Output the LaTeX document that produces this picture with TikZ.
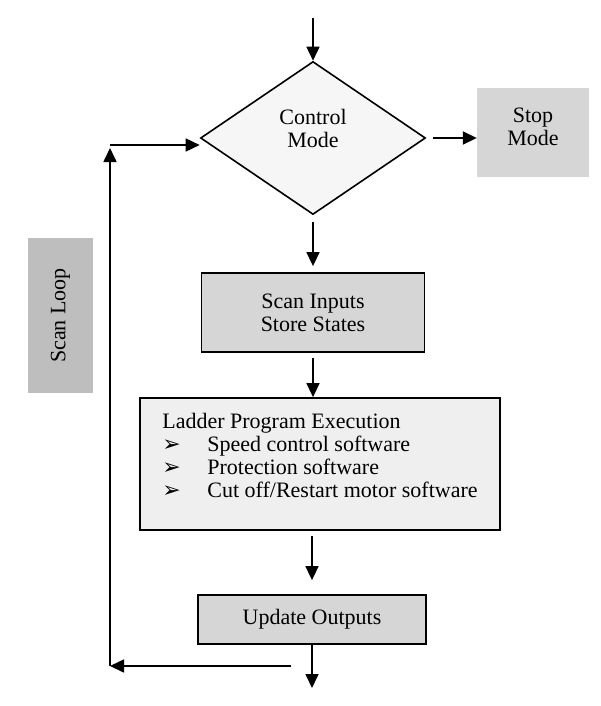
\documentclass[tikz,border=0pt]{standalone}
\usepackage{fontspec}
\setmainfont{Liberation Serif}
\newfontfamily\dingfont{DejaVu Sans}
\usetikzlibrary{shapes.geometric,arrows.meta}

\definecolor{boxgray}{HTML}{D6D6D6}
\definecolor{loopgray}{HTML}{BEBEBE}
\definecolor{lightgray}{HTML}{EFEFEF}
\definecolor{palegray}{HTML}{F6F6F6}

\newcommand{\ladderitem}{\makebox[45pt][l]{\dingfont ➢}}

\tikzset{
    flowarrow/.style={-{Triangle[length=14pt,width=13pt]}, line width=1.6pt},
    procbox/.style={draw, line width=1.8pt, fill=boxgray, align=center, inner sep=0pt},
    notebox/.style={fill=boxgray, align=center, inner sep=0pt}
}

\begin{document}
\begin{tikzpicture}[x=1pt, y=1pt, font=\fontsize{22}{23}\selectfont]
    \useasboundingbox (0,0) rectangle (600,-706);

    \coordinate (start) at (313,-18);

    \node[diamond, draw, line width=1.6pt, fill=palegray, inner sep=0pt,
          minimum width=225pt, minimum height=153pt, align=center] (ctrl) at (313,-138)
        {Control\\Mode\rule[-20pt]{0pt}{1pt}};
    \node[notebox, minimum width=112pt, minimum height=89pt] (stop) at (533,-132.5)
        {Stop\\Mode\rule[-12pt]{0pt}{1pt}};
    \node[notebox, fill=loopgray, rotate=90, minimum width=155pt, minimum height=65pt] (loop) at (60.5,-315.5) {Scan Loop};

    \node[procbox, minimum width=223pt, minimum height=79pt] (scan) at (313,-312.5) {Scan Inputs\\Store States};
    \node[procbox, fill=lightgray, minimum width=360pt, minimum height=132pt, align=left] (ladder) at (320,-464)
        {Ladder Program Execution\\
         \ladderitem Speed control software\\
         \ladderitem Protection software\\
         \ladderitem Cut off/Restart motor software\rule[-18pt]{0pt}{1pt}};
    \node[procbox, minimum width=228pt, minimum height=49pt] (upd) at (312,-619.5) {Update Outputs};

    \coordinate (outend) at (312,-688);
    \coordinate (retstart) at (291,-666);
    \coordinate (corner) at (110,-666);
    \coordinate (topcorner) at (110,-145);

    % main flow
    \draw[flowarrow] (start) -- (ctrl.north);
    \draw[flowarrow, shorten <=7pt] (ctrl.east) -- (ctrl.east -| stop.west);
    \draw[flowarrow, shorten <=7pt, shorten >=6pt] (ctrl.south) -- (scan.north);
    \draw[flowarrow, shorten <=5pt] (scan.south) -- (scan.south |- ladder.north);
    \draw[flowarrow, shorten <=5pt, shorten >=14pt] (ladder.south -| upd.north) -- (upd.north);
    \draw[flowarrow] (upd.south) -- (outend);

    % scan loop back to the top
    \draw[flowarrow] (retstart) -- (corner);
    \draw[flowarrow] (corner) -- ([yshift=-3pt]topcorner);
    \draw[flowarrow] (topcorner) -- (ctrl.west |- topcorner);
\end{tikzpicture}
\end{document}
